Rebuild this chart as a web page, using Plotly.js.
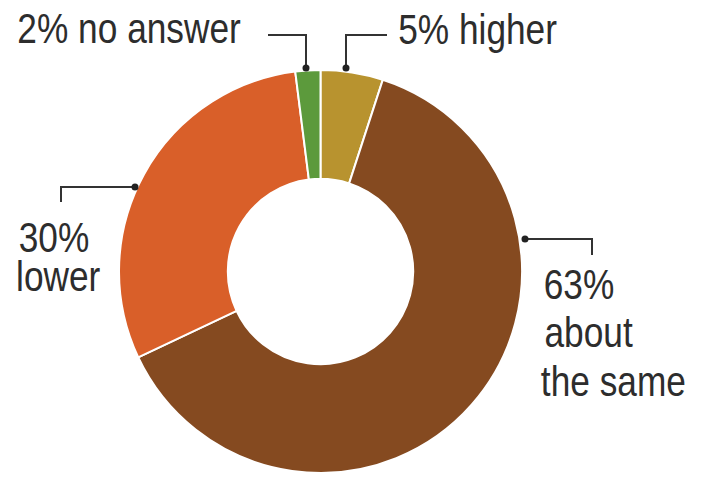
<!DOCTYPE html>
<html>
<head>
<meta charset="utf-8">
<script src="https://cdn.plot.ly/plotly-3.0.1.min.js"></script>
<style>html,body{margin:0;padding:0;background:#fff;}#chart{width:704px;height:477px;}</style>
</head>
<body>
<div id="chart"></div>
<script>
// Data
const categories = ["higher", "about the same", "lower", "no answer"];
const values = [5, 63, 30, 2];
const colors = ["#B8932F", "#854A20", "#D95F29", "#5C9A3C"];
const labelLines = [
  ["5% higher"],
  ["63%", "about", "the same"],
  ["30%", "lower"],
  ["2% no answer"]
];

const W = 704, H = 477;
const px = x => x / W;
const py = y => 1 - y / H;
const TXT = "#2d2d2d";
const FONT = "Liberation Sans, Arial, sans-serif";
const SQUEEZE = 0.84;

const trace = {
  type: "pie",
  labels: categories,
  values: values,
  sort: false,
  direction: "clockwise",
  rotation: 0,
  hole: 0.46,
  textinfo: "none",
  hoverinfo: "label+value",
  marker: { colors: colors, line: { color: "#ffffff", width: 2 } },
  domain: { x: [px(119), px(522)], y: [py(473), py(70)] },
  showlegend: false
};

// Label positions: x-centres and y-centres of each line (px)
const labelPos = [
  { xs: [477.5], ys: [30] },
  { xs: [578.5, 588.5, 613.5], ys: [284.5, 332.5, 381.5] },
  { xs: [53.5, 57.5], ys: [237, 276.5] },
  { xs: [128.5], ys: [29] }
];
const annotations = [];
labelLines.forEach((lines, i) => {
  lines.forEach((t, j) => {
    annotations.push({
      text: t, xref: "paper", yref: "paper",
      x: px(labelPos[i].xs[j]), y: py(labelPos[i].ys[j]),
      xanchor: "center", yanchor: "middle", showarrow: false,
      font: { family: FONT, size: 42, color: TXT }
    });
  });
});

// Leader lines (px)
const leaders = [
  { pts: [[346, 68], [346, 35], [387, 35]] },
  { pts: [[525, 239], [592, 239], [592, 255]] },
  { pts: [[135, 187], [61, 187], [61, 202]] },
  { pts: [[306, 68], [306, 35], [268, 35]] }
];
const shapes = [];
leaders.forEach(l => {
  const p = l.pts;
  const path = "M" + p.map(q => px(q[0]) + "," + py(q[1])).join(" L");
  shapes.push({ type: "path", xref: "paper", yref: "paper", path: path,
    line: { color: "#333333", width: 2 } });
  const d = p[0], r = 3.5;
  shapes.push({ type: "circle", xref: "paper", yref: "paper",
    x0: px(d[0] - r), x1: px(d[0] + r), y0: py(d[1] + r), y1: py(d[1] - r),
    fillcolor: "#222222", line: { width: 0 } });
});

const layout = {
  width: W, height: H,
  margin: { l: 0, r: 0, t: 0, b: 0 },
  paper_bgcolor: "#ffffff",
  plot_bgcolor: "#ffffff",
  annotations: annotations,
  shapes: shapes
};

Plotly.newPlot("chart", [trace], layout, { displayModeBar: false, staticPlot: true }).then(gd => {
  // condense the label glyphs horizontally around their centre
  gd.querySelectorAll("text.annotation-text").forEach(el => {
    const b = el.getBBox();
    const cx = b.x + b.width / 2;
    const ex = el.getAttribute("transform") || "";
    el.setAttribute("transform", ex + " translate(" + cx + ",0) scale(" + SQUEEZE + ",1) translate(" + (-cx) + ",0)");
  });
});
</script>
</body>
</html>
